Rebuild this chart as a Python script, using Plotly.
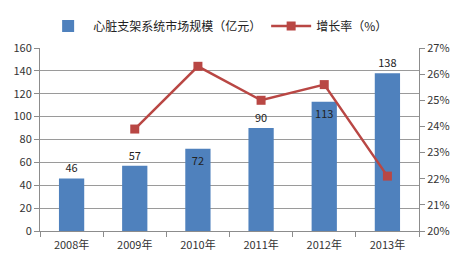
import plotly.graph_objects as go

years = ["2008年", "2009年", "2010年", "2011年", "2012年", "2013年"]
market = [46, 57, 72, 90, 113, 138]
growth_years = ["2009年", "2010年", "2011年", "2012年", "2013年"]
growth = [23.9, 26.3, 25.0, 25.6, 22.1]
label_pos = ["outside", "outside", "inside", "outside", "inside", "outside"]

font = "Noto Sans CJK SC, DejaVu Sans, sans-serif"

fig = go.Figure()
fig.add_trace(go.Bar(
    x=years, y=market, name="心脏支架系统市场规模（亿元）",
    marker=dict(color="#4F81BD", line=dict(width=0)),
    text=[str(v) for v in market], textposition=label_pos,
    insidetextanchor="end",
    textfont=dict(color="#222222", size=11, family=font),
    cliponaxis=False,
))
fig.add_trace(go.Scatter(
    x=growth_years, y=growth, name="增长率（%）", yaxis="y2",
    mode="lines+markers",
    line=dict(color="#B94744", width=2.5),
    marker=dict(symbol="square", size=9, color="#B94744"),
))

fig.update_layout(
    width=462, height=262,
    margin=dict(l=40, r=40, t=35, b=31),
    paper_bgcolor="white", plot_bgcolor="white",
    font=dict(family=font, size=11, color="#333333"),
    bargap=0.6,
    showlegend=True,
    legend=dict(orientation="h", x=0.47, xanchor="center", y=1.2, yanchor="top",
                font=dict(size=12, color="#222222"), itemwidth=40,
                traceorder="normal"),
    xaxis=dict(showline=True, linecolor="#8C8C8C", ticks="outside",
               tickson="boundaries", ticklen=5, tickcolor="#8C8C8C",
               tickfont=dict(size=11), ticklabelstandoff=4, automargin=False),
    yaxis=dict(range=[0, 160], dtick=20, showgrid=True, gridcolor="#9A9A9A",
               gridwidth=1, showline=True, linecolor="#8C8C8C", ticks="outside",
               ticklen=5, tickcolor="#8C8C8C", zeroline=False,
               tickfont=dict(size=11)),
    yaxis2=dict(range=[20, 27], dtick=1, overlaying="y", side="right",
                showgrid=False, showline=True, linecolor="#8C8C8C",
                ticks="outside", ticklen=5, tickcolor="#8C8C8C",
                ticksuffix="%", zeroline=False, tickfont=dict(size=11)),
)

fig.write_html("out.html")
